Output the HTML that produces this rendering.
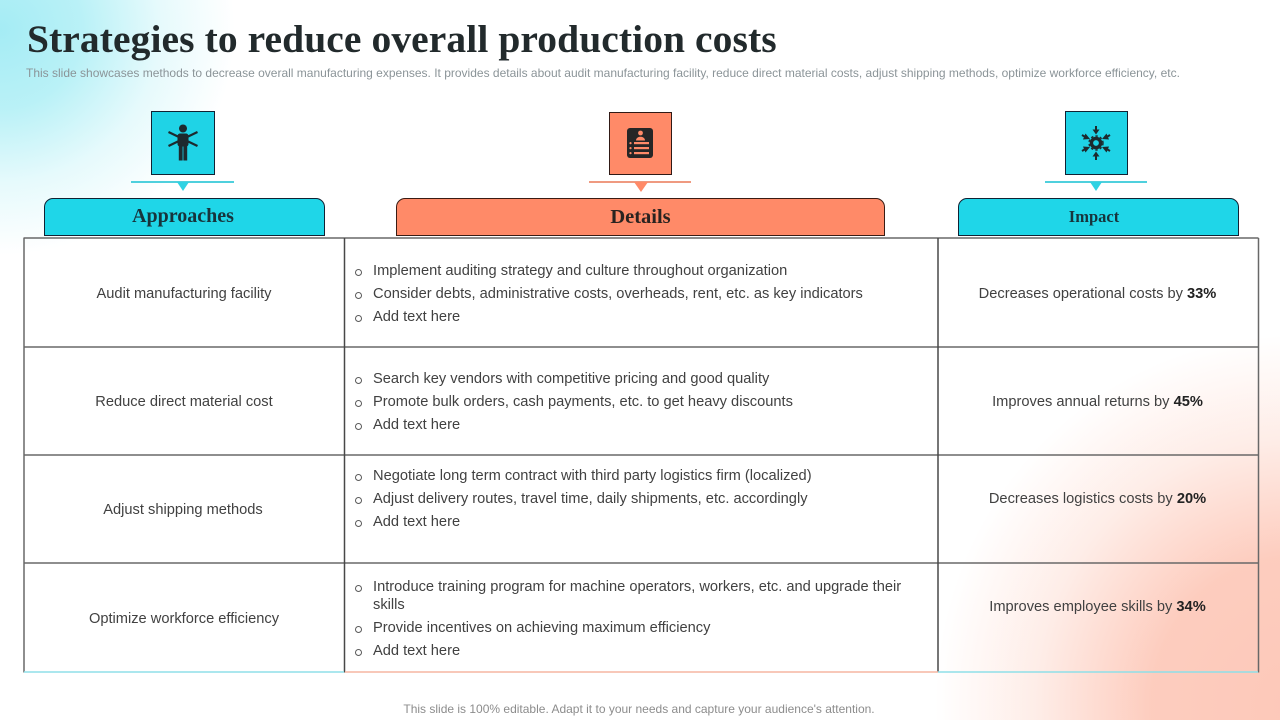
<!DOCTYPE html>
<html lang="en">
<head>
<meta charset="utf-8">
<title>Strategies to reduce overall production costs</title>
<style>
html,body{margin:0;padding:0;width:1280px;height:720px;overflow:hidden;background:#fff}
#slide{position:relative;width:1280px;height:720px;overflow:hidden;font-family:"Liberation Sans",sans-serif;color:#3f3f3f;
background:
radial-gradient(ellipse 235px 225px at 0px 30px,rgba(160,235,244,.95) 0%,rgba(170,238,245,.82) 35%,rgba(205,245,249,.5) 68%,rgba(255,255,255,0) 100%),
radial-gradient(ellipse 360px 370px at 1295px 705px,rgba(253,200,185,1) 0%,rgba(253,202,187,.95) 40%,rgba(254,222,212,.55) 72%,rgba(255,255,255,0) 100%),#fff}
.t{position:absolute;white-space:nowrap;line-height:1}
.c{transform:translateX(-50%)}
.s{font-size:14.65px;color:#414141}
.b{position:absolute;width:5px;height:5px;border:1px solid #5a5a5a;border-radius:50%;box-sizing:content-box}
.h{position:absolute;box-sizing:border-box;height:38px;top:198px;border:1px solid #123;border-radius:9px 9px 0 0;text-align:center;font-family:"Liberation Serif",serif;font-weight:bold;color:#17343c}
.ib{position:absolute;box-sizing:border-box;width:64px;height:64px;border:1px solid #123}
.line{position:absolute;height:2px}
.tri{position:absolute;width:0;height:0;border-left:6px solid transparent;border-right:6px solid transparent}
#table-lines{position:absolute;left:0;top:0}
b{color:#222}
</style>
</head>
<body>
<div id="slide">
<div class="t" style="left:27px;top:16px;font:bold 39.5px 'Liberation Serif',serif;letter-spacing:.09px;color:#222a2c">Strategies to reduce overall production costs</div>
<div class="t" style="left:26px;top:67px;font-size:12px;color:#8b9498">This slide showcases methods to decrease overall manufacturing expenses. It provides details about audit manufacturing facility, reduce direct material costs, adjust shipping methods, optimize workforce efficiency, etc.</div>

<div class="ib" style="left:151px;top:111px;background:#1fd3e6">
<svg width="62" height="62" viewBox="0 0 62 62"><g stroke="#1d2a2e" stroke-width="2.2"><path d="M16.500 20l29 14M45.500 20l-29 14"/></g><g fill="#1d2a2e"><circle cx="31" cy="16.500" r="4"/><rect x="25.500" y="21.500" width="11" height="13" rx="2.500"/><rect x="26.800" y="33" width="3.800" height="15.500"/><rect x="31.400" y="33" width="3.800" height="15.500"/></g></svg></div>
<div class="line" style="left:131px;top:181px;width:103px;background:#4fd0dd"></div>
<div class="tri" style="left:177px;top:182px;border-top:9px solid #2fd2e3"></div>

<div class="ib" style="left:609px;top:112px;width:63px;height:63px;background:#ff8a68;border-color:#301a16">
<svg width="61" height="61" viewBox="0 0 61 61"><rect x="17" y="15" width="26" height="30" rx="3" fill="#262626"/><circle cx="30.500" cy="20" r="2.400" fill="#ff8a68"/><path d="M26 27.500c0-5 9-5 9 0z" fill="#ff8a68"/><g fill="#ff8a68"><rect x="24" y="29" width="15" height="2.200"/><rect x="24" y="34" width="15" height="2.200"/><rect x="24" y="39" width="15" height="2.200"/><circle cx="20.500" cy="30.100" r="1.100"/><circle cx="20.500" cy="35.100" r="1.100"/><circle cx="20.500" cy="40.100" r="1.100"/></g></svg></div>
<div class="line" style="left:589px;top:181px;width:102px;background:#ef9a80"></div>
<div class="tri" style="left:634px;top:182px;border-top:10px solid #ff8a68;border-left-width:7px;border-right-width:7px"></div>

<div class="ib" style="left:1065px;top:111px;width:63px;background:#1fd3e6">
<svg width="61" height="62" viewBox="0 0 61 62"><circle cx="30" cy="31" r="4.600" fill="none" stroke="#1d2a2e" stroke-width="3.400"/><circle cx="30" cy="31" r="7" fill="none" stroke="#1d2a2e" stroke-width="1.400" stroke-dasharray="2.400 2.200"/><g stroke="#1d2a2e" stroke-width="2"><path d="M30 14v5M30 48v-5M16 23l5 3M44 23l-5 3M16 39l5-3M44 39l-5-3"/></g><g fill="#1d2a2e"><path d="M26.500 17.500h7L30 22.500zM26.500 44.500h7L30 39.500zM19.500 21.500l4.500 5.500-7 .5zM40.500 21.500l-4.500 5.500 7 .5zM19.500 40.500l4.500-5.500-7-.5zM40.500 40.500l-4.500-5.500 7-.5z"/></g></svg></div>
<div class="line" style="left:1045px;top:181px;width:102px;background:#4fd0dd"></div>
<div class="tri" style="left:1090px;top:182px;border-top:9px solid #2fd2e3"></div>

<div class="h" style="left:44px;width:281px;background:#1fd6e8;font-size:20px;line-height:34px;padding-right:3px">Approaches</div>
<div class="h" style="left:396px;width:489px;background:#ff8a68;font-size:20.500px;line-height:36px;color:#2a2320;border-color:#3a1c14">Details</div>
<div class="h" style="left:958px;width:281px;background:#1fd6e8;font-size:16.500px;line-height:35px;padding-right:9px">Impact</div>

<svg id="table-lines" width="1280" height="720" viewBox="0 0 1280 720">
<g stroke="#686868" stroke-width="1.500">
<line x1="23.500" y1="238" x2="1258.500" y2="238"/>
<line x1="23.500" y1="347" x2="1258.500" y2="347"/>
<line x1="23.500" y1="455" x2="1258.500" y2="455"/>
<line x1="23.500" y1="563" x2="1258.500" y2="563"/>
<line x1="24" y1="238" x2="24" y2="672.500"/>
<line x1="344.500" y1="238" x2="344.500" y2="672.500" stroke="#484848"/>
<line x1="938" y1="238" x2="938" y2="672.500" stroke="#484848"/>
<line x1="1258.500" y1="238" x2="1258.500" y2="672.500"/>
</g>
<line x1="24" y1="672" x2="344" y2="672" stroke="#8fdfe8" stroke-width="1.500"/>
<line x1="345" y1="672" x2="938" y2="672" stroke="#f5b5a2" stroke-width="1.500"/>
<line x1="938" y1="672" x2="1258" y2="672" stroke="#8fdfe8" stroke-width="1.500"/>
</svg>

<div class="t c s" style="left:184px;top:287px">Audit manufacturing facility</div>
<div class="t c s" style="left:184px;top:395px">Reduce direct material cost</div>
<div class="t c s" style="left:183px;top:503px">Adjust shipping methods</div>
<div class="t c s" style="left:184px;top:612px">Optimize workforce efficiency</div>

<span class="b" style="left:355px;top:269px"></span><div class="t s" style="left:373px;top:264px">Implement auditing strategy and culture throughout organization</div>
<span class="b" style="left:355px;top:292px"></span><div class="t s" style="left:373px;top:287px">Consider debts, administrative costs, overheads, rent, etc. as key indicators</div>
<span class="b" style="left:355px;top:315px"></span><div class="t s" style="left:373px;top:310px">Add text here</div>

<span class="b" style="left:355px;top:377px"></span><div class="t s" style="left:373px;top:372px">Search key vendors with competitive pricing and good quality</div>
<span class="b" style="left:355px;top:400px"></span><div class="t s" style="left:373px;top:395px">Promote bulk orders, cash payments, etc. to get heavy discounts</div>
<span class="b" style="left:355px;top:423px"></span><div class="t s" style="left:373px;top:418px">Add text here</div>

<span class="b" style="left:355px;top:474px"></span><div class="t s" style="left:373px;top:469px">Negotiate long term contract with third party logistics firm (localized)</div>
<span class="b" style="left:355px;top:497px"></span><div class="t s" style="left:373px;top:492px">Adjust delivery routes, travel time, daily shipments, etc. accordingly</div>
<span class="b" style="left:355px;top:520px"></span><div class="t s" style="left:373px;top:515px">Add text here</div>

<span class="b" style="left:355px;top:585px"></span><div class="t s" style="left:373px;top:580px">Introduce training program for machine operators, workers, etc. and upgrade their</div>
<div class="t s" style="left:373px;top:598px">skills</div>
<span class="b" style="left:355px;top:626px"></span><div class="t s" style="left:373px;top:621px">Provide incentives on achieving maximum efficiency</div>
<span class="b" style="left:355px;top:649px"></span><div class="t s" style="left:373px;top:644px">Add text here</div>

<div class="t c s" style="left:1097.500px;top:287px">Decreases operational costs by <b>33%</b></div>
<div class="t c s" style="left:1097.500px;top:395px">Improves annual returns by <b>45%</b></div>
<div class="t c s" style="left:1097.500px;top:492px">Decreases logistics costs by <b>20%</b></div>
<div class="t c s" style="left:1097.500px;top:600px">Improves employee skills by <b>34%</b></div>

<div class="t c" style="left:639px;top:703px;font-size:12px;color:#8c8c8c">This slide is 100% editable. Adapt it to your needs and capture your audience's attention.</div>
</div>
</body>
</html>
